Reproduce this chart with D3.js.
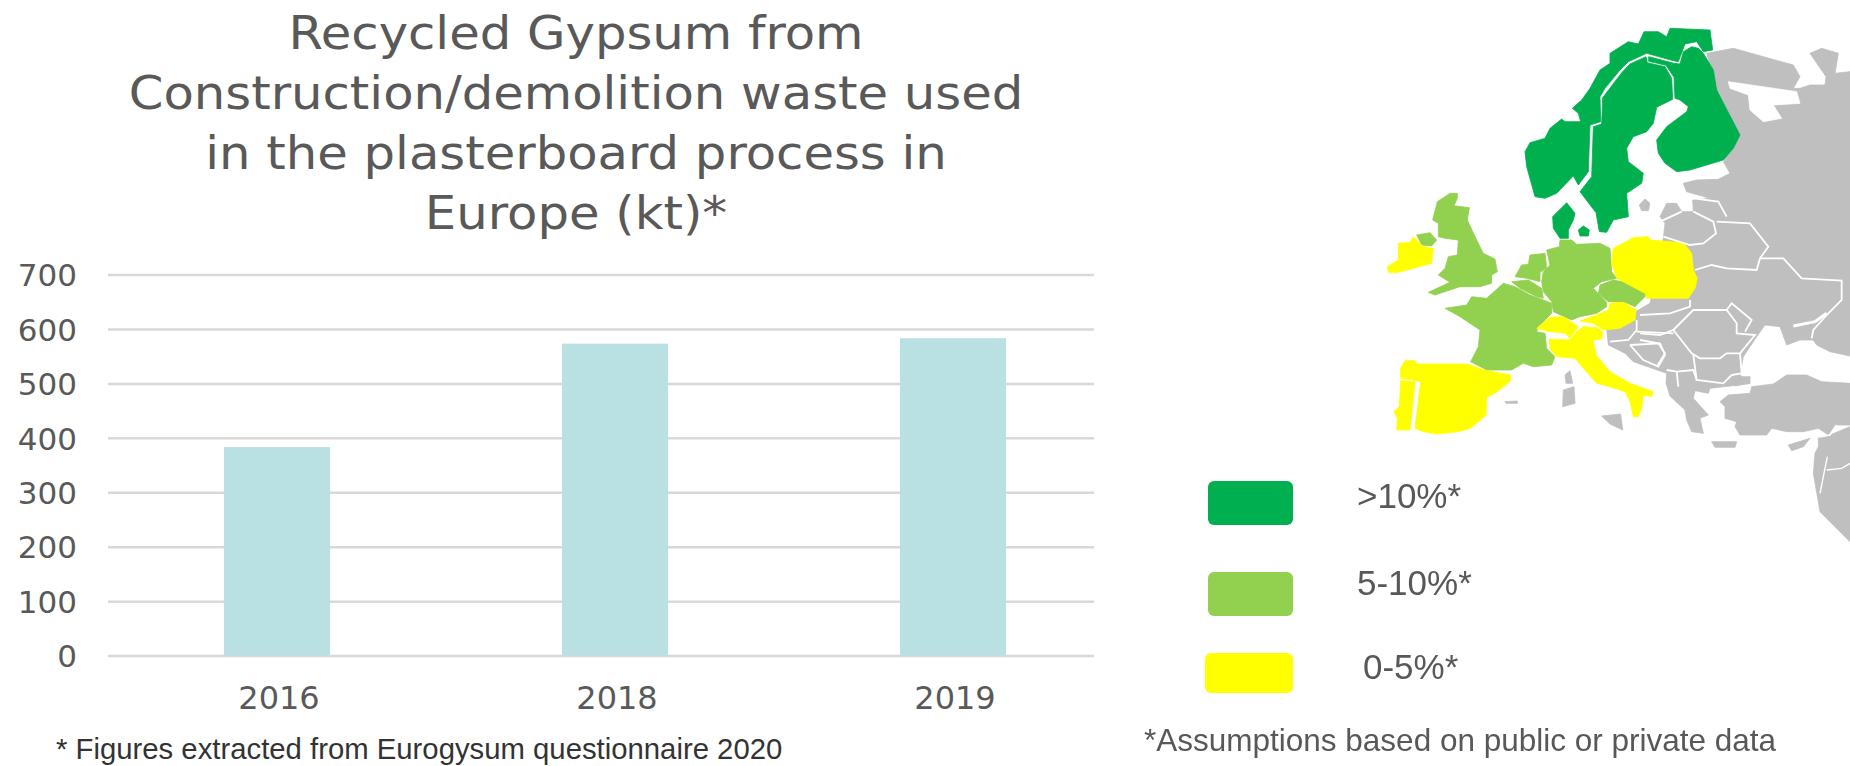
<!DOCTYPE html>
<html>
<head>
<meta charset="utf-8">
<script src="https://cdn.jsdelivr.net/npm/d3@7"></script>
<style>
html, body { margin: 0; padding: 0; background: #fff; overflow: hidden; }
svg { display: block; }
</style>
</head>
<body>
<svg id="chart" width="1850" height="766">
    <defs>
        <filter id="soft" x="-5%" y="-5%" width="110%" height="110%"><feGaussianBlur stdDeviation="0.7"></feGaussianBlur></filter>
        <filter id="softText" x="-5%" y="-20%" width="110%" height="140%"><feGaussianBlur stdDeviation="0.45"></feGaussianBlur></filter>
    </defs>
</svg>
<script>
const titleLines = ["Recycled Gypsum from", "Construction/demolition waste used", "in the plasterboard process in", "Europe (kt)*"]
const years = ["2016", "2018", "2019"]
const tonnage = [383, 573, 583]
const yTicks = [0, 100, 200, 300, 400, 500, 600, 700]
const leftNote = "* Figures extracted from Eurogysum questionnaire 2020"
const rightNote = "*Assumptions based on public or private data"

const legendLabels = [">10%*", "5-10%*", "0-5%*"]

// map outlines in 1/3 px units, each relative to a frame below
const norway = [[480,25],[600,30],[608,90],[580,95],[560,65],[525,72],[505,125],[490,122],[410,100],[355,125],[330,150],[285,205],[270,230],[272,305],[240,315],[235,455],[205,495],[190,468],[140,520],[105,535],[75,530],[50,440],[45,395],[60,368],[105,355],[120,325],[155,297],[165,305],[212,305],[205,280],[187,265],[215,240],[240,205],[270,150],[300,130],[300,100],[355,65],[385,72],[402,35],[445,35],[470,50]]
const sweden = [[408,110],[412,128],[465,140],[485,175],[488,238],[440,262],[430,310],[410,335],[370,350],[350,385],[355,425],[400,460],[395,490],[350,520],[355,590],[310,600],[290,637],[268,635],[258,578],[210,515],[245,470],[250,320],[275,312],[278,233],[336,157],[360,132]]
const finland = [[545,80],[565,85],[580,100],[610,150],[620,210],[690,345],[670,385],[640,420],[540,450],[500,455],[465,430],[445,400],[440,360],[470,320],[530,275],[535,260],[510,240],[495,235],[492,172],[468,136],[416,124],[416,110],[492,130],[510,132],[520,95]]
const jutland = [[170,548],[195,580],[190,600],[175,630],[175,655],[150,655],[130,625],[128,590]]
const zealand = [[205,630],[220,618],[238,630],[235,648],[210,648]]
const gotland = [[388,555],[405,537],[420,550],[415,572],[395,572]]
const eastMass = [[590,100],[670,85],[850,135],[870,170],[850,205],[870,205],[900,195],[945,195],[948,170],[900,100],[935,85],[985,100],[975,160],[1020,155],[1020,1008],[960,995],[920,975],[910,960],[870,960],[830,975],[810,920],[765,915],[740,950],[700,1010],[690,1065],[720,1090],[660,1098],[600,1105],[595,1120],[555,1112],[550,1135],[595,1185],[570,1195],[580,1240],[545,1235],[530,1200],[525,1170],[498,1145],[480,1128],[468,1090],[470,1060],[370,1025],[345,1000],[295,975],[290,925],[350,890],[420,850],[460,655],[465,610],[450,590],[470,550],[500,550],[515,575],[550,575],[548,540],[600,535],[530,515],[520,490],[560,480],[625,478],[660,460],[640,425],[690,345],[620,210]]
const whiteSea = [[655,185],[860,215],[870,250],[790,255],[815,295],[760,305],[720,270],[715,225],[660,205]]

const britain = [[210,25],[232,25],[232,40],[222,62],[268,68],[262,105],[290,165],[310,205],[345,222],[352,260],[335,270],[335,295],[300,305],[240,305],[165,330],[145,322],[210,292],[175,270],[195,250],[205,215],[232,210],[235,165],[195,160],[175,155],[175,115],[158,105],[172,50]]
const ulster = [[110,150],[150,143],[170,165],[155,183],[125,180]]
const ireland = [[55,175],[90,172],[100,155],[130,185],[160,190],[155,235],[100,250],[50,263],[25,262],[22,245],[55,225]]
const france = [[370,295],[405,305],[450,330],[490,345],[515,355],[515,385],[475,425],[470,440],[495,445],[500,490],[525,515],[515,540],[460,545],[430,535],[395,555],[320,555],[272,530],[295,485],[300,435],[240,395],[195,370],[260,360],[275,335],[320,340]]
const belgium = [[395,290],[445,285],[485,310],[490,340],[470,335],[420,310]]
const netherlands = [[405,275],[425,240],[445,238],[450,210],[495,205],[500,250],[480,262],[480,290],[440,280]]
const germany = [[540,165],[575,165],[590,178],[660,175],[690,190],[695,260],[710,280],[665,290],[640,310],[680,352],[680,365],[650,385],[600,395],[575,405],[520,380],[515,350],[490,320],[485,290],[490,260],[510,240],[500,195],[538,185]]
const czechia = [[660,300],[700,285],[750,295],[805,325],[765,365],[735,352],[685,350],[655,325]]
const austria = [[690,355],[730,352],[768,375],[765,405],[720,430],[670,435],[640,415],[600,408],[650,390],[685,375]]
const switzerland = [[510,397],[550,395],[595,425],[570,460],[555,445],[510,440],[470,430]]
const italy = [[610,425],[650,428],[668,440],[665,462],[640,465],[648,510],[690,560],[750,595],[820,620],[815,635],[790,630],[785,670],[775,695],[760,695],[750,650],[735,620],[690,605],[650,595],[610,550],[585,520],[530,515],[510,490],[508,462],[570,465],[590,440]]
const poland = [[700,190],[760,158],[805,155],[810,165],[910,173],[935,205],[940,255],[952,280],[945,310],[925,340],[800,340],[795,325],[710,280],[695,235]]

const spain = [[62,175],[62,145],[75,122],[105,122],[110,132],[260,132],[320,152],[392,165],[390,185],[345,220],[320,232],[318,285],[272,325],[235,335],[170,342],[130,335],[105,325],[122,185],[100,180]]
const portugal = [[62,182],[105,185],[90,330],[50,330],[52,295],[42,275],[58,260]]
const corsica = [[555,165],[570,152],[578,190],[558,190]]
const sardinia = [[550,210],[582,200],[585,250],[548,260]]
const sicily = [[665,288],[722,282],[728,330],[690,312]]
const balearics = [[375,245],[412,243],[412,250],[378,250]]

const turkey = [[240,125],[265,105],[330,100],[335,80],[400,72],[440,45],[500,45],[545,65],[630,70],[630,195],[585,195],[565,225],[535,205],[490,215],[440,215],[395,205],[380,225],[300,225],[285,200],[290,185],[255,175],[255,140]]
const cyprus = [[445,255],[510,235],[490,260],[455,272]]
const crete = [[215,245],[290,245],[285,262],[225,262]]
const levant = [[535,232],[570,225],[630,200],[630,545],[540,455],[520,340],[525,280],[535,260]]
const thrace = [[285,50],[330,50],[330,70],[285,78]]

const eastBorders = [
    [[160,25],[235,35],[260,80]],
    [[60,95],[125,65]],
    [[160,65],[220,95],[228,130],[190,160],[150,165],[70,140]],
    [[230,95],[330,100],[385,170],[360,205],[350,240],[260,235],[215,225],[165,240]],
    [[360,205],[430,205],[485,265],[605,272],[605,330],[560,375],[520,420],[515,445]],
    [[150,330],[150,350],[90,370],[0,375]],
    [[100,420],[160,360],[260,360],[290,400],[290,430],[345,435],[300,490],[260,490],[240,505],[180,505],[155,490],[100,420],[60,435],[0,430]],
    [[260,360],[275,340],[335,390],[315,425]],
    [[300,490],[305,550],[275,555]],
    [[160,495],[170,570],[250,580],[275,555]],
    [[0,450],[55,460],[75,490],[50,530]],
    [[80,540],[110,545],[160,540],[170,570]],
    [[110,545],[115,590]]
]
const azovLine = [[460,408],[525,395],[560,370]]
const westBorders = [
    [[750,480],[840,475],[855,510],[835,545],[790,525],[750,480]],
    [[690,470],[745,465],[770,435],[770,405]],
    [[770,440],[880,445]]
]
const levantBorders = [
    [[560,330],[605,325],[630,310]],
    [[562,290],[540,400]],
    [[535,232],[570,225],[590,195]]
]
const portugalGap = [[112,185],[100,330]]

const frames = {
    north: [1510, 20],
    west: [1380, 185],
    east: [1640, 190],
    south: [1380, 320],
    se: [1640, 360]
}

const colors = { high: "#00b050", mid: "#92d050", low: "#ffff00", land: "#bfbfbf" }

const svg = d3.select("#chart")

// bar chart
const plot = { left: 108, right: 1122, gridRight: 1094, top: 274.5, bottom: 655.6 }
const x = d3.scaleBand().domain(years).range([plot.left, plot.right]).paddingInner(0.686).paddingOuter(0.343)
const y = d3.scaleLinear().domain([0, 700]).range([plot.bottom, plot.top])

const yAxis = svg.append("g")
    .attr("transform", "translate(" + plot.left + ",0)")
    .call(d3.axisLeft(y).tickValues(yTicks).tickSize(plot.left - plot.gridRight))
yAxis.select(".domain").remove()
yAxis.selectAll("line").attr("stroke", "#d9d9d9").attr("stroke-width", 2.5)
yAxis.selectAll("text")
    .attr("x", -31)
    .attr("dy", "0.36em")
    .attr("font-family", "DejaVu Sans")
    .attr("font-size", 31)
    .attr("fill", "#595959")

svg.selectAll("rect.bar")
    .data(years)
    .join("rect")
    .classed("bar", true)
    .attr("x", (d) => x(d))
    .attr("y", (d, i) => y(tonnage[i]))
    .attr("width", x.bandwidth())
    .attr("height", (d, i) => y(0) - y(tonnage[i]))
    .attr("fill", "#b9e0e2")

const xAxis = svg.append("g")
    .attr("transform", "translate(2," + plot.bottom + ")")
    .call(d3.axisBottom(x).tickSize(0))
xAxis.select(".domain").remove()
xAxis.selectAll("text")
    .attr("y", 53)
    .attr("dy", 0)
    .attr("font-family", "DejaVu Sans")
    .attr("font-size", 32)
    .attr("fill", "#595959")

// the original title font runs wider than DejaVu, so stretch it sideways
svg.selectAll("text.title")
    .data(titleLines)
    .join("text")
    .classed("title", true)
    .attr("transform", (d, i) => "translate(576," + (49 + i * 60) + ") scale(1.08,1)")
    .attr("text-anchor", "middle")
    .attr("font-family", "DejaVu Sans")
    .attr("font-size", 46)
    .attr("fill", "#595959")
    .text((d) => d)

svg.append("text")
    .attr("x", 56)
    .attr("y", 759)
    .attr("font-family", "Liberation Sans")
    .attr("font-size", 29.3)
    .attr("fill", "#333333")
    .text(leftNote)

// map
const frameLine = function(name) {
    const sx = d3.scaleLinear().domain([0, 3]).range([frames[name][0], frames[name][0] + 1])
    const sy = d3.scaleLinear().domain([0, 3]).range([frames[name][1], frames[name][1] + 1])
    return d3.line().x((d) => sx(d[0])).y((d) => sy(d[1]))
}
const frameShape = function(name) {
    return frameLine(name).curve(d3.curveLinearClosed)
}

const mapShapes = [
    [eastMass, "north", colors.land],
    [gotland, "north", colors.land],
    [whiteSea, "north", "#ffffff"],
    [thrace, "se", colors.land],
    [turkey, "se", colors.land],
    [cyprus, "se", colors.land],
    [crete, "se", colors.land],
    [levant, "se", colors.land],
    [corsica, "south", colors.land],
    [sardinia, "south", colors.land],
    [sicily, "south", colors.land],
    [balearics, "south", colors.land],
    [norway, "north", colors.high],
    [sweden, "north", colors.high],
    [finland, "north", colors.high],
    [jutland, "north", colors.high],
    [zealand, "north", colors.high],
    [britain, "west", colors.mid],
    [ulster, "west", colors.mid],
    [ireland, "west", colors.low],
    [france, "west", colors.mid],
    [belgium, "west", colors.mid],
    [netherlands, "west", colors.mid],
    [germany, "west", colors.mid],
    [czechia, "west", colors.mid],
    [austria, "west", colors.low],
    [switzerland, "west", colors.low],
    [italy, "west", colors.low],
    [poland, "west", colors.low],
    [spain, "south", colors.low],
    [portugal, "south", colors.low]
]

const mapGroup = svg.append("g").attr("filter", "url(#soft)")
mapGroup.selectAll("path.shape")
    .data(mapShapes)
    .join("path")
    .classed("shape", true)
    .attr("d", (d) => frameShape(d[1])(d[0]))
    .attr("fill", (d) => d[2])
    .attr("stroke", (d) => d[2])
    .attr("stroke-width", 0.8)

const mapLines = [
    ...eastBorders.map((d) => [d, "east", 1.8]),
    ...westBorders.map((d) => [d, "west", 1.8]),
    ...levantBorders.map((d) => [d, "se", 1.4]),
    [azovLine, "east", 3],
    [portugalGap, "south", 1.6]
]
mapGroup.selectAll("path.border")
    .data(mapLines)
    .join("path")
    .classed("border", true)
    .attr("d", (d) => frameLine(d[1])(d[0]))
    .attr("fill", "none")
    .attr("stroke", "#ffffff")
    .attr("stroke-width", (d) => d[2])

// legend
const swatchX = d3.scaleOrdinal().domain(legendLabels).range([1208, 1208, 1205])
const swatchRight = 1293
const swatchTop = d3.scaleOrdinal().domain(legendLabels).range([481, 572, 653])
const swatchHeight = d3.scaleOrdinal().domain(legendLabels).range([44, 44, 40])
const swatchFill = d3.scaleOrdinal().domain(legendLabels).range([colors.high, colors.mid, colors.low])
const labelX = d3.scaleOrdinal().domain(legendLabels).range([1357, 1357, 1363])
const labelY = d3.scaleOrdinal().domain(legendLabels).range([508, 595, 679])

svg.selectAll("rect.swatch")
    .data(legendLabels)
    .join("rect")
    .classed("swatch", true)
    .attr("x", (d) => swatchX(d))
    .attr("y", (d) => swatchTop(d))
    .attr("width", (d) => swatchRight - swatchX(d))
    .attr("height", (d) => swatchHeight(d))
    .attr("rx", 6)
    .attr("fill", (d) => swatchFill(d))

svg.selectAll("text.legend")
    .data(legendLabels)
    .join("text")
    .classed("legend", true)
    .attr("x", (d) => labelX(d))
    .attr("y", (d) => labelY(d))
    .attr("font-family", "Liberation Sans")
    .attr("font-size", 35)
    .attr("fill", "#595959")
    .attr("filter", "url(#softText)")
    .text((d) => d)

svg.append("text")
    .attr("x", 1144)
    .attr("y", 751)
    .attr("font-family", "Liberation Sans")
    .attr("font-size", 31.5)
    .attr("fill", "#595959")
    .attr("filter", "url(#softText)")
    .text(rightNote)
</script>
</body>
</html>
